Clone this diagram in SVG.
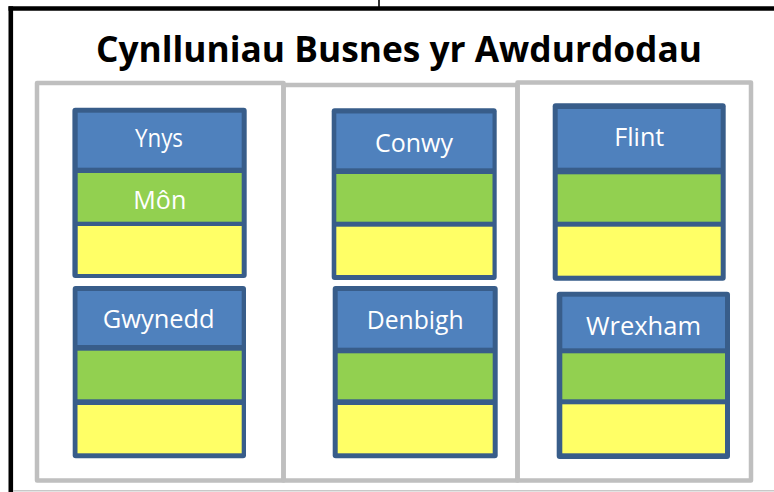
<svg xmlns="http://www.w3.org/2000/svg" width="774" height="492" viewBox="0 0 774 492">
<style>
  .panel{fill:none;stroke:#BFBFBF;stroke-width:4.5;stroke-linejoin:round}
  .frame{stroke:#000;stroke-width:4.6;fill:none}
  .outer{fill:#385D8A}
  .blue{fill:#4F81BD}
  .green{fill:#92D050}
  .yellow{fill:#FFFF66}
  .lbl{font-family:"Open Sans","Noto Sans","Liberation Sans",sans-serif;fill:#FFFFFF;font-size:26px}
  .title{font-family:"Open Sans","Noto Sans","Liberation Sans",sans-serif;font-weight:bold;font-size:35px;fill:#000}
</style>
<rect width="774" height="492" fill="#FFFFFF"/>
<g id="frame">
  <line class="frame" x1="8.5" y1="8.5" x2="774" y2="8.5"/>
  <line class="frame" x1="10.8" y1="6.2" x2="10.8" y2="492"/>
  <line x1="13" y1="490.7" x2="774" y2="490.7" stroke="#C8C8C8" stroke-width="1.5"/>
</g>
<g id="connectors">
  <line x1="379" y1="0" x2="379" y2="7" stroke="#000" stroke-width="1.6"/>
</g>
<g id="title">
  <text class="title" x="96" y="62" textLength="606" lengthAdjust="spacingAndGlyphs">Cynlluniau Busnes yr Awdurdodau</text>
</g>
<g id="panels">
  <path class="panel" d="M37,480.5 V83 H283.5 V480.5 Z"/>
  <path class="panel" d="M283.5,480.5 V85 H517.5 V480.5 Z"/>
  <path class="panel" d="M517.5,480.5 V82.5 H751 V480.5 Z"/>
</g>
<g id="node-ynys">
  <rect class="outer" x="72.4" y="107.7" width="174.3" height="170.3" rx="3"/>
  <rect class="blue" x="77.7" y="112.7" width="164" height="55"/>
  <rect class="green" x="77.7" y="173" width="164" height="48.7"/>
  <rect class="yellow" x="77.7" y="226" width="164" height="48"/>
  <text class="lbl" x="135" y="147.3" font-size="23" textLength="48" lengthAdjust="spacingAndGlyphs">Ynys</text>
  <text class="lbl" x="133.3" y="209.3" textLength="53" lengthAdjust="spacingAndGlyphs">Môn</text>
</g>
<g id="node-conwy">
  <rect class="outer" x="331.7" y="108.3" width="165" height="171.7" rx="3"/>
  <rect class="blue" x="336.3" y="113.5" width="156.2" height="54.8"/>
  <rect class="green" x="336.3" y="174" width="156.2" height="47.7"/>
  <rect class="yellow" x="336.3" y="226.7" width="156.2" height="48.3"/>
  <text class="lbl" x="375" y="151.7" textLength="78" lengthAdjust="spacingAndGlyphs">Conwy</text>
</g>
<g id="node-flint">
  <rect class="outer" x="552.7" y="103.3" width="173" height="177.4" rx="3"/>
  <rect class="blue" x="557.7" y="109" width="163" height="58.7"/>
  <rect class="green" x="557.7" y="174.3" width="163" height="47.4"/>
  <rect class="yellow" x="557.7" y="226.7" width="163" height="49"/>
  <text class="lbl" x="614.3" y="146" textLength="50" lengthAdjust="spacingAndGlyphs">Flint</text>
</g>
<g id="node-gwynedd">
  <rect class="outer" x="72.7" y="286" width="173.3" height="172.3" rx="3"/>
  <rect class="blue" x="77.5" y="291" width="164.2" height="54"/>
  <rect class="green" x="77.5" y="350.7" width="164.2" height="48.6"/>
  <rect class="yellow" x="77.5" y="405" width="164.2" height="48.3"/>
  <text class="lbl" x="102.7" y="328.3" textLength="112" lengthAdjust="spacingAndGlyphs">Gwynedd</text>
</g>
<g id="node-denbigh">
  <rect class="outer" x="332.7" y="286" width="165" height="172.3" rx="3"/>
  <rect class="blue" x="337.7" y="291" width="155" height="56.7"/>
  <rect class="green" x="337.7" y="353.3" width="155" height="46"/>
  <rect class="yellow" x="337.7" y="405" width="155" height="48.3"/>
  <text class="lbl" x="366.7" y="329.3" textLength="97" lengthAdjust="spacingAndGlyphs">Denbigh</text>
</g>
<g id="node-wrexham">
  <rect class="outer" x="556.7" y="291.7" width="173.3" height="167.3" rx="3"/>
  <rect class="blue" x="562.3" y="296.7" width="162.7" height="51.6"/>
  <rect class="green" x="562.3" y="353.3" width="162.7" height="46"/>
  <rect class="yellow" x="562.3" y="404.3" width="162.7" height="49"/>
  <text class="lbl" x="586" y="335" textLength="115" lengthAdjust="spacingAndGlyphs">Wrexham</text>
</g>
</svg>
